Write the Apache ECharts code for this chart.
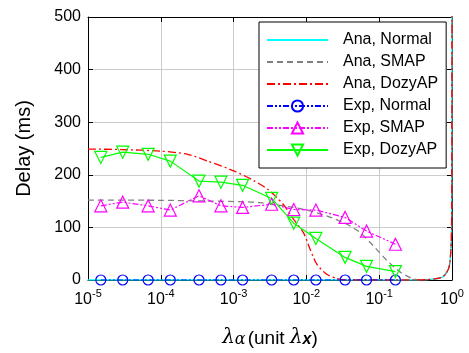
<!DOCTYPE html>
<html><head><meta charset="utf-8">
<script src="https://cdn.jsdelivr.net/npm/echarts@6/dist/echarts.min.js"></script>
<style>html,body{margin:0;padding:0;background:#fff}#c{width:469px;height:353px}</style>
</head><body><div id="c"></div>
<script>
// Experimental sample positions (x, unit lambda_x)
const expX = [1.5e-5, 3e-5, 6.7e-5, 1.35e-4, 3.35e-4, 6.7e-4, 1.33e-3, 3.33e-3, 6.7e-3, 1.35e-2, 3.4e-2, 6.7e-2, 0.167];
const expNormal = [0, 0, 0, 0, 0, 0, 0, 0, 0, 0, 0, 0, 0];
const expSMAP   = [141, 148, 141, 133, 160, 141, 138, 144, 134, 133, 119, 93, 68];
const expDozy   = [233, 243, 239, 226, 188, 186, 180, 155, 108, 79, 43, 26, 16];

// Analytical curves
const anaNormalX = [1e-5, 1e-3, 0.1, 0.3, 0.5, 0.73, 0.85, 0.92, 0.968, 0.986, 0.995, 0.999];
const anaNormalY = [0, 0, 0, 0, 1, 5, 15, 27, 59, 97, 250, 520];
const anaSMAPX = [1e-5, 1e-4, 5e-4, 1.5e-3, 2.3e-3, 6.6e-3, 1.01e-2, 1.9e-2, 3.6e-2, 5.5e-2, 8.3e-2, 0.128, 0.195, 0.296, 0.4, 0.5, 0.73, 0.85, 0.92, 0.968, 0.986, 0.995, 0.999];
const anaSMAPY = [152, 151.5, 150, 148.5, 147, 138, 133, 122, 106, 90, 65, 37, 15, 2, 0, 1, 5, 15, 27, 59, 97, 250, 520];
const anaDozyX = [1e-5, 2.9e-5, 1e-4, 2.35e-4, 4.4e-4, 1.03e-3, 1.95e-3, 2.97e-3, 4.8e-3, 6.6e-3, 9.1e-3, 1.12e-2, 1.39e-2, 1.9e-2, 2.6e-2, 3.5e-2, 0.1, 0.3, 0.5, 0.73, 0.85, 0.92, 0.968, 0.986, 0.995, 0.999];
const anaDozyY = [249, 248, 245, 239, 226, 207, 188, 172, 144, 116, 90, 59, 30, 11, 3, 0, 0, 0, 1, 5, 15, 27, 59, 97, 250, 520];

const names = ['Ana, Normal', 'Ana, SMAP', 'Ana, DozyAP', 'Exp, Normal', 'Exp, SMAP', 'Exp, DozyAP'];

const zip = (xs, ys) => xs.map((x, i) => [x, ys[i]]);
const FONT = 'Liberation Sans, Arial, Helvetica, sans-serif';

const chart = echarts.init(document.getElementById('c'), null, {renderer: 'canvas'});

function lineSeries(name, xs, ys, color, type, width) {
  return {name, type: 'line', data: zip(xs, ys), showSymbol: false, symbol: 'none',
    smooth: 0.25,
    lineStyle: {color, width: width || 1.3, type: type}, itemStyle: {color}, z: 2};
}
function expSeries(name, ys, color, symbol, rotate, dash) {
  return {name, type: 'line', data: zip(expX, ys), symbol, symbolSize: symbol === 'circle' ? 10 : 12,
    symbolRotate: rotate || 0,
    lineStyle: {color, width: 1.2, type: dash},
    itemStyle: {color: 'rgba(0,0,0,0)', borderColor: color, borderWidth: 1.2}, z: 3};
}

const supLabel = v => {
  const e = Math.round(Math.log10(v));
  return '{b|10}{s|' + e + '}';
};

chart.setOption({
  animation: false,
  backgroundColor: '#fff',
  textStyle: {fontFamily: FONT},
  grid: {left: 88, right: 17, top: 17, bottom: 72, containLabel: false},
  legend: {
    orient: 'vertical', left: 259, top: 22,
    itemWidth: 61, itemHeight: 14, itemGap: 6,
    padding: [10, 8, 10, 7],
    backgroundColor: '#fff', borderColor: '#000', borderWidth: 1, borderRadius: 0,
    textStyle: {fontSize: 16, color: '#000', fontFamily: FONT, padding: [0, 0, 0, 10], lineHeight: 14},
    data: names.map((n, i) => i < 3 ? {name: n, itemStyle: {opacity: 0}} : {name: n})
  },
  xAxis: [{
    type: 'log', logBase: 10, min: 1e-5, max: 1,
    name: '{l|λ}{sa|α}{n|(unit }{l|λ}{sx|x}{n|)}',
    nameLocation: 'middle', nameGap: 44,
    nameTextStyle: {rich: {
      l: {fontSize: 20, fontStyle: 'italic', fontFamily: 'DejaVu Serif, serif', color: '#000', verticalAlign: 'bottom'},
      sa: {fontSize: 16, fontStyle: 'italic', fontFamily: 'DejaVu Serif, serif', color: '#000', padding: [8, 2, 0, 0], verticalAlign: 'bottom'},
      sx: {fontSize: 16, fontStyle: 'italic', fontWeight: 'bold', fontFamily: FONT, color: '#000', padding: [8, 0, 0, 0], verticalAlign: 'bottom'},
      n: {fontSize: 19, fontFamily: FONT, color: '#000', verticalAlign: 'bottom'}
    }},
    axisLine: {show: true, onZero: false, lineStyle: {color: '#000', width: 1}},
    axisTick: {show: true, inside: true, length: 5, lineStyle: {color: '#000'}},
    minorTick: {show: false},
    axisLabel: {margin: 8, formatter: supLabel, rich: {
      b: {fontSize: 16, color: '#000', fontFamily: FONT, verticalAlign: 'bottom', lineHeight: 20},
      s: {fontSize: 11, color: '#000', fontFamily: FONT, verticalAlign: 'top', lineHeight: 20}
    }},
    splitLine: {show: true, lineStyle: {color: '#cccccc', width: 1}}
  }, {
    type: 'log', logBase: 10, min: 1e-5, max: 1, position: 'top',
    axisLine: {show: true, onZero: false, lineStyle: {color: '#000', width: 1}},
    axisTick: {show: true, inside: true, length: 5, lineStyle: {color: '#000'}},
    axisLabel: {show: false}, splitLine: {show: false}
  }],
  yAxis: [{
    type: 'value', min: 0, max: 500, interval: 100,
    name: 'Delay (ms)', nameLocation: 'middle', nameGap: 54,
    nameTextStyle: {fontSize: 20, color: '#000', fontFamily: FONT},
    axisLine: {show: true, onZero: false, lineStyle: {color: '#000', width: 1}},
    axisTick: {show: true, inside: true, length: 5, lineStyle: {color: '#000'}},
    axisLabel: {fontSize: 16, color: '#000', margin: 7, fontFamily: FONT},
    splitLine: {show: true, lineStyle: {color: '#cccccc', width: 1}}
  }, {
    type: 'value', min: 0, max: 500, interval: 100, position: 'right',
    axisLine: {show: true, onZero: false, lineStyle: {color: '#000', width: 1}},
    axisTick: {show: true, inside: true, length: 5, lineStyle: {color: '#000'}},
    axisLabel: {show: false}, splitLine: {show: false}
  }],
  series: [
    lineSeries(names[0], anaNormalX, anaNormalY, '#00ffff', 'solid', 1.3),
    lineSeries(names[1], anaSMAPX, anaSMAPY, '#808080', [6, 4], 1.3),
    lineSeries(names[2], anaDozyX, anaDozyY, '#ff0000', [8, 3, 2, 3], 1.3),
    expSeries(names[3], expNormal, '#0000ff', 'circle', 0, [6, 2, 2, 2, 2, 2]),
    expSeries(names[4], expSMAP, '#ff00ff', 'triangle', 0, [6, 2, 2, 2, 2, 2]),
    expSeries(names[5], expDozy, '#00ff00', 'triangle', 180, 'solid')
  ]
});
</script></body></html>
